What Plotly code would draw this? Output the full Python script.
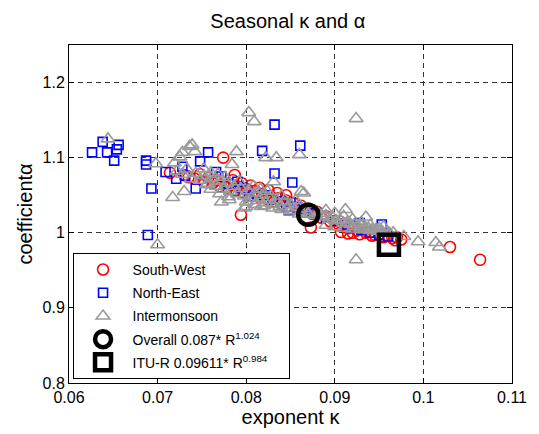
import plotly.graph_objects as go

# South-West (red circles): exponent kappa, coefficient alpha
sw_k = [0.0714, 0.0774, 0.0787, 0.0794, 0.0873, 0.0907, 0.0920, 0.1030, 0.1064,
        0.0730, 0.0735, 0.0742, 0.0748, 0.0752, 0.0757, 0.0762, 0.0766, 0.0770, 0.0775,
        0.0779, 0.0783, 0.0788, 0.0792, 0.0797, 0.0801, 0.0806, 0.0810, 0.0814, 0.0818,
        0.0823, 0.0827, 0.0832, 0.0836, 0.0840, 0.0845, 0.0849, 0.0853, 0.0858, 0.0862,
        0.0866, 0.0870, 0.0875, 0.0880, 0.0885, 0.0890, 0.0895, 0.0900, 0.0905, 0.0910,
        0.0915, 0.0920, 0.0925, 0.0930, 0.0935, 0.0940, 0.0945, 0.0950, 0.0955, 0.0960,
        0.0965, 0.0970, 0.0975, 0.0915, 0.0928, 0.0942, 0.0955, 0.0968,
        0.0785, 0.0795, 0.0805, 0.0815, 0.0825, 0.0835, 0.0845]
sw_a = [1.080, 1.100, 1.077, 1.024, 1.007, 1.001, 1.000, 0.981, 0.964,
        1.077, 1.074, 1.072, 1.078, 1.068, 1.073, 1.066, 1.070, 1.062, 1.067,
        1.060, 1.064, 1.057, 1.061, 1.054, 1.058, 1.050, 1.056, 1.048, 1.052,
        1.045, 1.049, 1.042, 1.046, 1.038, 1.043, 1.036, 1.040, 1.032, 1.036,
        1.028, 1.032, 1.025, 1.028, 1.020, 1.022, 1.015, 1.016, 1.010, 1.012,
        1.006, 1.008, 1.003, 1.004, 1.000, 1.001, 0.997, 0.998, 0.995, 0.996,
        0.993, 0.994, 0.991, 0.999, 0.998, 0.996, 0.994, 0.990,
        1.070, 1.066, 1.063, 1.060, 1.057, 1.053, 1.050]

# North-East (blue squares)
ne_k = [0.0626, 0.0638, 0.0643, 0.0654, 0.0656, 0.0651, 0.0687, 0.0687, 0.0709, 0.0721,
        0.0693, 0.0689, 0.0743, 0.0757, 0.0818, 0.0832, 0.0861, 0.0832, 0.0852,
        0.0748, 0.0728, 0.0731, 0.0766, 0.0772, 0.0790, 0.0803,
        0.0780, 0.0795, 0.0810, 0.0820, 0.0830, 0.0840, 0.0845, 0.0848, 0.0850, 0.0858,
        0.0865, 0.0878, 0.0890, 0.0900, 0.0910, 0.0920, 0.0930, 0.0940, 0.0950, 0.0960,
        0.0928, 0.0953]
ne_a = [1.107, 1.121, 1.107, 1.111, 1.117, 1.096, 1.096, 1.091, 1.081, 1.072,
        1.059, 0.997, 1.059, 1.107, 1.109, 1.144, 1.116, 1.079, 1.067,
        1.095, 1.088, 1.076, 1.081, 1.075, 1.068, 1.048,
        1.065, 1.060, 1.052, 1.050, 1.044, 1.042, 1.035, 1.030, 1.040, 1.034,
        1.032, 1.026, 1.020, 1.016, 1.011, 1.007, 1.004, 1.000, 0.997, 0.995,
        1.013, 1.011]

# Intermonsoon (grey triangles)
im_k = [0.0644, 0.0698, 0.0700, 0.0717, 0.0730, 0.0736, 0.0728, 0.0742, 0.0719, 0.0739,
        0.0725, 0.0789, 0.0803, 0.0809, 0.0924, 0.0822, 0.0834, 0.0860, 0.0784, 0.0831,
        0.0862, 0.0865, 0.0912, 0.0935, 0.0955, 0.0978, 0.0994, 0.1014, 0.1018, 0.0924,
        0.0800, 0.0817, 0.0772, 0.0798, 0.0755, 0.0781,
        0.0722, 0.0728, 0.0733, 0.0738, 0.0743, 0.0748, 0.0752, 0.0757, 0.0761, 0.0766,
        0.0770, 0.0774, 0.0778, 0.0782, 0.0786, 0.0790, 0.0794, 0.0798, 0.0802, 0.0806,
        0.0810, 0.0814, 0.0818, 0.0822, 0.0826, 0.0830, 0.0834, 0.0838, 0.0842, 0.0846,
        0.0850, 0.0854, 0.0858, 0.0862, 0.0866, 0.0870, 0.0874, 0.0878, 0.0882, 0.0886,
        0.0890, 0.0894, 0.0898, 0.0902, 0.0906, 0.0910, 0.0914, 0.0918, 0.0922, 0.0926,
        0.0930, 0.0934, 0.0938, 0.0942, 0.0946, 0.0950, 0.0954, 0.0958, 0.0962, 0.0966,
        0.0890, 0.0900, 0.0910, 0.0920, 0.0930, 0.0940, 0.0950,
        0.0890, 0.0900, 0.0910, 0.0920, 0.0930, 0.0940, 0.0950,
        0.0752, 0.0760, 0.0768, 0.0776, 0.0792, 0.0808, 0.0816, 0.0824, 0.0840, 0.0856,
        0.0760, 0.0770, 0.0780, 0.0800, 0.0810, 0.0820, 0.0830, 0.0840, 0.0850, 0.0860]
im_a = [1.125, 1.092, 0.984, 1.047, 1.055, 1.115, 1.107, 1.108, 1.093, 1.117,
        1.101, 1.108, 1.160, 1.148, 1.152, 1.100, 1.100, 1.104, 1.091, 1.068,
        1.055, 1.053, 1.031, 1.021, 1.008, 0.995, 0.988, 0.987, 0.981, 0.964,
        1.035, 1.035, 1.041, 1.033, 1.064, 1.044,
        1.082, 1.078, 1.085, 1.072, 1.079, 1.070, 1.076, 1.066, 1.073, 1.062,
        1.069, 1.058, 1.066, 1.055, 1.062, 1.052, 1.059, 1.049, 1.056, 1.046,
        1.053, 1.043, 1.050, 1.040, 1.047, 1.038, 1.044, 1.035, 1.041, 1.033,
        1.038, 1.030, 1.035, 1.028, 1.032, 1.025, 1.029, 1.023, 1.026, 1.021,
        1.023, 1.018, 1.020, 1.016, 1.017, 1.013, 1.014, 1.011, 1.011, 1.008,
        1.009, 1.006, 1.006, 1.004, 1.004, 1.002, 1.001, 1.000, 0.999, 1.000,
        1.030, 1.026, 1.022, 1.018, 1.014, 1.010, 1.006,
        1.010, 1.008, 1.006, 1.005, 1.004, 1.003, 1.002,
        1.085, 1.080, 1.078, 1.074, 1.068, 1.062, 1.058, 1.055, 1.049, 1.043,
        1.058, 1.052, 1.048, 1.041, 1.038, 1.036, 1.033, 1.031, 1.029, 1.025]

overall_k = [0.087]
overall_a = [1.024]
itu_k = [0.09611]
itu_a = [0.984]

x_ticks = [0.06, 0.07, 0.08, 0.09, 0.1, 0.11]
y_ticks = [0.8, 0.9, 1.0, 1.1, 1.2]

FONT = "Liberation Sans, Arial, Helvetica, sans-serif"
PAD = "\u00a0\u00a0\u00a0\u00a0"

fig = go.Figure()
fig.add_trace(go.Scatter(x=sw_k, y=sw_a, mode="markers", name="South-West", legendgroup="a",
                         marker=dict(symbol="circle-open", size=11, color="#ff0000",
                                     line=dict(width=1.6, color="#ff0000"))))
fig.add_trace(go.Scatter(x=ne_k, y=ne_a, mode="markers", name="North-East", legendgroup="b",
                         marker=dict(symbol="square-open", size=9, color="#0000ff",
                                     line=dict(width=1.6, color="#0000ff"))))
fig.add_trace(go.Scatter(x=im_k, y=im_a, mode="markers", name="Intermonsoon", legendgroup="c",
                         marker=dict(symbol="triangle-up-open", size=12, color="#9a9a9a",
                                     line=dict(width=1.6, color="#9a9a9a"))))
fig.add_trace(go.Scatter(x=overall_k, y=overall_a, mode="markers", legendgroup="d",
                         name="Overall 0.087* R<sup>1.024</sup>",
                         marker=dict(symbol="circle-open", size=20, color="#000000",
                                     line=dict(width=4.5, color="#000000"))))
fig.add_trace(go.Scatter(x=itu_k, y=itu_a, mode="markers", legendgroup="e",
                         name="ITU-R 0.09611* R<sup>0.984</sup>" + PAD,
                         marker=dict(symbol="square-open", size=20, color="#000000",
                                     line=dict(width=4.5, color="#000000"))))

axis_common = dict(showline=True, linecolor="#000000", linewidth=1, mirror="ticks",
                   ticks="inside", ticklen=5, tickcolor="#000000",
                   showgrid=True, gridcolor="#333333", gridwidth=1, griddash="5px,4px",
                   zeroline=False, tickfont=dict(family=FONT, size=16, color="#000000"))

fig.update_layout(
    width=539, height=434,
    margin=dict(l=69, r=25, t=45, b=51),
    paper_bgcolor="#ffffff", plot_bgcolor="#ffffff",
    title=dict(text="Seasonal κ and α", x=0.534, xanchor="center", y=0.951, yanchor="middle",
               font=dict(family=FONT, size=20, color="#000000")),
    xaxis=dict(range=[0.06, 0.11], tickvals=x_ticks,
               title=dict(text="exponent κ", standoff=2,
                          font=dict(family=FONT, size=20, color="#000000")),
               **axis_common),
    yaxis=dict(range=[0.8, 1.25], tickvals=y_ticks,
               title=dict(text="coefficientα", standoff=4,
                          font=dict(family=FONT, size=20, color="#000000")),
               **axis_common),
    legend=dict(x=0.008, y=0.012, xanchor="left", yanchor="bottom",
                bgcolor="#ffffff", bordercolor="#000000", borderwidth=1,
                font=dict(family=FONT, size=14, color="#000000"),
                itemwidth=49, itemsizing="trace", tracegroupgap=2),
    showlegend=True,
)

fig.write_html("out.html")
